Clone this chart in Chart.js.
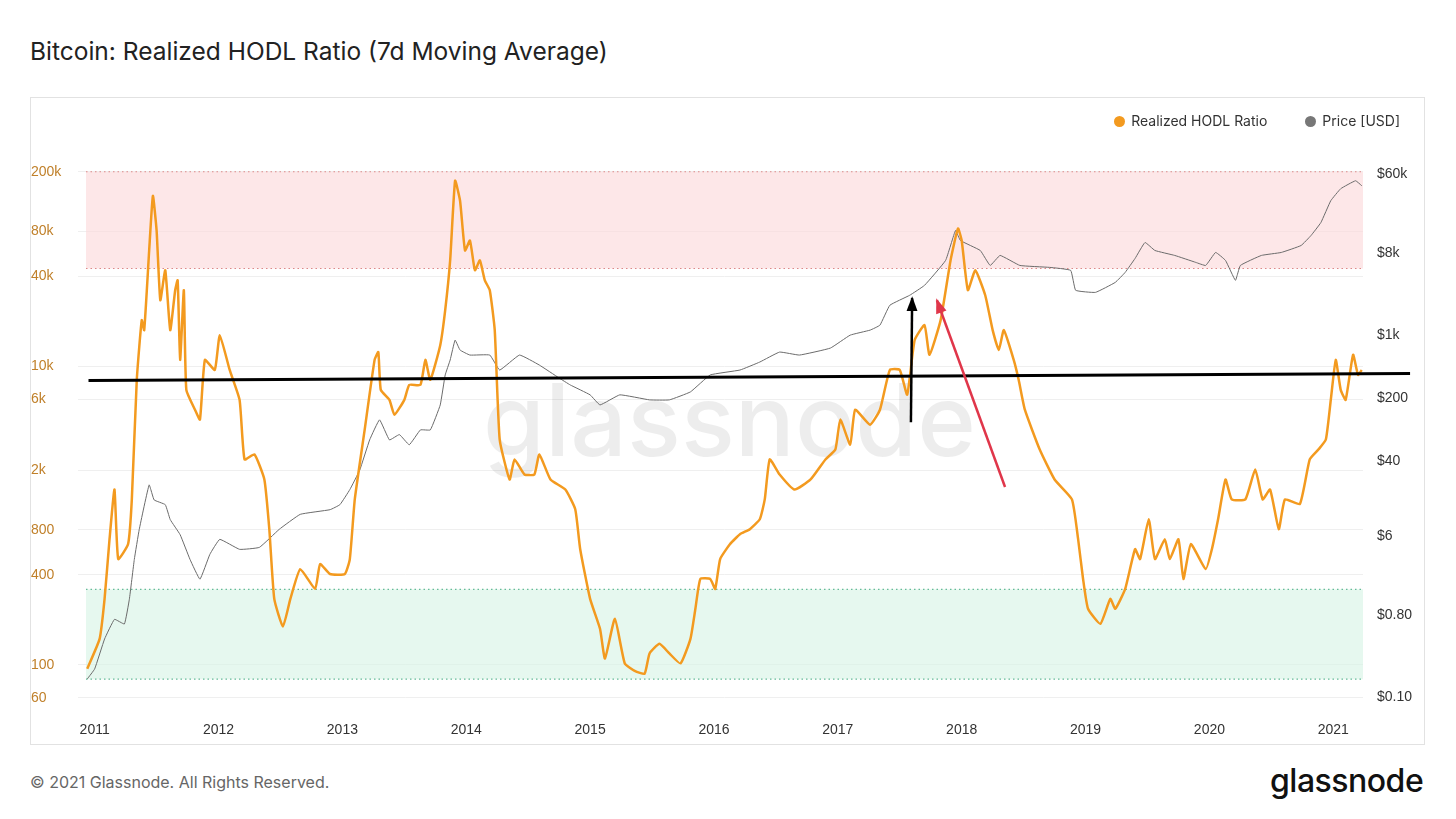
<!DOCTYPE html>
<html><head><meta charset="utf-8">
<script src="https://cdn.jsdelivr.net/npm/chart.js@4"></script>
<style>
body{margin:0;width:1456px;height:819px;background:#fff;font-family:Inter,"Noto Sans",sans-serif;position:relative;overflow:hidden}
#title{position:absolute;left:30px;top:36px;font-size:24.5px;color:#222}
#box{position:absolute;left:30px;top:97px;width:1395px;height:648px;border:1px solid #e2e2e2;box-sizing:border-box}
#legend{position:absolute;right:24px;top:14px;font-size:14px;color:#333;display:flex;gap:38px}
#legend span i{display:inline-block;width:11px;height:11px;border-radius:50%;margin-right:6px;vertical-align:-1px}
#foot{position:absolute;left:30px;top:772px;font-size:16px;color:#666}
#logo{position:absolute;left:1270px;top:761px;font-size:32px;color:#111;font-weight:500;letter-spacing:-0.5px}
</style></head><body>
<div id="title">Bitcoin: Realized HODL Ratio (7d Moving Average)</div>
<div id="box"><canvas id="c" width="1393" height="646"></canvas>
<div id="legend"><span><i style="background:#f39a1f"></i>Realized HODL Ratio</span><span><i style="background:#777"></i>Price [USD]</span></div></div>
<div id="foot">© 2021 Glassnode. All Rights Reserved.</div>
<div id="logo">glassnode</div>
<script>
const hodlYears=[2010.94,2011.04,2011.08,2011.12,2011.16,2011.19,2011.27,2011.30,2011.34,2011.38,2011.40,2011.44,2011.47,2011.50,2011.53,2011.57,2011.61,2011.65,2011.67,2011.69,2011.72,2011.74,2011.81,2011.85,2011.89,2011.97,2012.01,2012.09,2012.17,2012.21,2012.29,2012.37,2012.41,2012.45,2012.52,2012.58,2012.66,2012.78,2012.82,2012.90,2013.02,2013.06,2013.10,2013.18,2013.26,2013.29,2013.31,2013.38,2013.42,2013.50,2013.54,2013.63,2013.67,2013.71,2013.79,2013.83,2013.87,2013.91,2013.95,2013.99,2014.03,2014.07,2014.11,2014.15,2014.19,2014.23,2014.27,2014.35,2014.39,2014.47,2014.55,2014.59,2014.68,2014.80,2014.88,2014.92,2015.00,2015.08,2015.12,2015.20,2015.28,2015.36,2015.44,2015.48,2015.56,2015.64,2015.73,2015.81,2015.85,2015.89,2015.97,2016.01,2016.05,2016.13,2016.21,2016.29,2016.37,2016.41,2016.45,2016.53,2016.65,2016.78,2016.90,2016.98,2017.02,2017.10,2017.14,2017.26,2017.34,2017.42,2017.50,2017.56,2017.62,2017.70,2017.74,2017.83,2017.91,2017.97,2018.00,2018.05,2018.11,2018.19,2018.25,2018.30,2018.34,2018.42,2018.46,2018.51,2018.63,2018.75,2018.89,2018.94,2018.98,2019.02,2019.12,2019.20,2019.24,2019.32,2019.40,2019.44,2019.51,2019.56,2019.64,2019.68,2019.75,2019.79,2019.85,2019.97,2020.02,2020.07,2020.13,2020.18,2020.29,2020.37,2020.43,2020.49,2020.56,2020.61,2020.73,2020.81,2020.88,2020.94,2020.98,2021.02,2021.06,2021.10,2021.16,2021.20,2021.23];
const hodlValues=[94,149,276,693,1490,510,643,1280,8090,20300,17400,59400,138000,80900,27600,43800,17400,32200,37500,11000,32200,6930,5100,4380,11000,9420,16100,9420,5940,2370,2560,1740,809,276,180,276,437,322,472,405,405,510,1280,3750,11000,12400,6930,5940,4720,5940,7480,7480,11000,8090,13800,23700,51000,174000,128000,59400,69300,43800,51000,37500,32200,17400,3220,1740,2370,1880,1880,2560,1740,1490,1100,594,276,174,110,203,102,91,87,119,138,119,102,149,237,375,375,322,510,643,748,809,942,1280,2370,1880,1490,1740,2370,2760,4380,2980,5100,4050,5100,9420,9420,6430,14900,18800,11900,20300,51000,83400,69300,32200,43800,29800,17400,12800,17400,11000,8090,5100,2760,1740,1280,693,375,237,188,276,237,322,594,510,942,510,693,510,693,375,643,437,594,942,1740,1280,1280,2030,1280,1490,809,1280,1190,2370,2760,3220,5940,11000,6930,5940,11900,8730,9420];
const priceYears=[2010.94,2011.00,2011.08,2011.16,2011.24,2011.28,2011.32,2011.36,2011.44,2011.48,2011.57,2011.61,2011.69,2011.77,2011.85,2011.93,2012.01,2012.17,2012.33,2012.49,2012.66,2012.90,2012.98,2013.06,2013.14,2013.22,2013.30,2013.38,2013.46,2013.54,2013.63,2013.71,2013.79,2013.83,2013.87,2013.91,2013.95,2014.03,2014.19,2014.27,2014.43,2014.59,2014.75,2014.84,2015.00,2015.08,2015.24,2015.48,2015.64,2015.81,2015.97,2016.21,2016.37,2016.53,2016.69,2016.94,2017.10,2017.26,2017.34,2017.42,2017.58,2017.70,2017.87,2017.95,2017.99,2018.15,2018.23,2018.31,2018.47,2018.71,2018.88,2018.92,2019.08,2019.24,2019.32,2019.40,2019.48,2019.56,2019.72,2019.89,2019.97,2020.05,2020.13,2020.21,2020.25,2020.42,2020.58,2020.74,2020.82,2020.90,2020.98,2021.06,2021.18,2021.23];
const priceValues=[0.158,0.204,0.437,0.72,0.64,1.2,3.3,7.1,22,15,13.3,9.1,6.2,3.3,2.0,3.76,5.5,4.27,4.49,7.1,10.4,11.7,13.3,19.5,32,69,115,69,79,61,89,89,168,360,526,873,678,597,597,408,597,463,333,279,217,168,217,191,191,234,360,408,500,644,597,713,991,1125,1277,2118,2729,3516,6622,14160,10990,8530,5830,7520,5830,5550,5140,3100,2940,3790,4890,6970,10450,8530,7520,6300,5830,8110,6622,3990,5830,7520,8110,9680,12470,17340,30270,41020,50230,44260];
const leftTicks=[60,100,400,800,2000,6000,10000,40000,80000,200000];
const leftLabels=['60','100','400','800','2k','6k','10k','40k','80k','200k'];
const rightTicks=[0.1,0.8,6,40,200,1000,8000,60000];
const rightLabels=['$0.10','$0.80','$6','$40','$200','$1k','$8k','$60k'];
const xTicks=[2011,2012,2013,2014,2015,2016,2017,2018,2019,2020,2021];
const redBand=[45000,200000], greenBand=[80,320];
const trendLine=[[2010.95,8000],[2021.62,8900]];
const blackArrow=[[2017.59,4200],[2017.60,28500]];
const redArrow=[[2018.35,1550],[2017.80,27600]];

const deco={id:'deco',
 beforeDatasetsDraw(ch){const {ctx,chartArea:a,scales:{x,y}}=ch;ctx.save();
  const band=(b,fill,line)=>{const t=y.getPixelForValue(b[1]),bo=y.getPixelForValue(b[0]);
   ctx.fillStyle=fill;ctx.fillRect(a.left,t,a.right-a.left,bo-t);
   ctx.strokeStyle=line;ctx.setLineDash([1.5,3]);ctx.lineWidth=1.2;
   [t,bo].forEach(p=>{ctx.beginPath();ctx.moveTo(a.left,p);ctx.lineTo(a.right,p);ctx.stroke();});ctx.setLineDash([]);};
  band(redBand,'rgba(252,215,217,0.6)','#d88');
  band(greenBand,'rgba(214,243,228,0.6)','#6b9');
  ctx.font='500 100px Inter, sans-serif';ctx.fillStyle='rgba(0,0,0,0.07)';ctx.textAlign='center';ctx.textBaseline='middle';
  ctx.fillText('glassnode',(a.left+a.right)/2+5,(a.top+a.bottom)/2+5);ctx.restore();},
 afterDatasetsDraw(ch){const {ctx,scales:{x,y}}=ch;ctx.save();
  const P=p=>[x.getPixelForValue(p[0]),y.getPixelForValue(p[1])];
  ctx.lineWidth=3;ctx.strokeStyle='#000';let [s,e]=trendLine.map(P);
  ctx.beginPath();ctx.moveTo(...s);ctx.lineTo(...e);ctx.stroke();
  const arrow=(pts,c)=>{const [a,b]=pts.map(P);ctx.strokeStyle=c;ctx.fillStyle=c;ctx.lineWidth=2.5;
   ctx.beginPath();ctx.moveTo(...a);ctx.lineTo(...b);ctx.stroke();
   const ang=Math.atan2(b[1]-a[1],b[0]-a[0]),L=14;ctx.beginPath();ctx.moveTo(b[0]+2*Math.cos(ang),b[1]+2*Math.sin(ang));
   ctx.lineTo(b[0]-L*Math.cos(ang-0.4),b[1]-L*Math.sin(ang-0.4));ctx.lineTo(b[0]-L*Math.cos(ang+0.4),b[1]-L*Math.sin(ang+0.4));ctx.closePath();ctx.fill();};
  arrow(blackArrow,'#000');arrow(redArrow,'#e0364a');ctx.restore();}};

new Chart(document.getElementById('c'),{type:'line',
 data:{datasets:[
  {label:'Realized HODL Ratio',data:hodlYears.map((t,i)=>({x:t,y:hodlValues[i]})),yAxisID:'y',borderColor:'#f39a1f',borderWidth:2.5,pointRadius:0,tension:0.15},
  {label:'Price [USD]',data:priceYears.map((t,i)=>({x:t,y:priceValues[i]})),yAxisID:'y2',borderColor:'#6b6b6b',borderWidth:1,pointRadius:0,tension:0.1}]},
 options:{responsive:false,animation:false,layout:{padding:{top:33,right:0,left:0,bottom:0}},
  plugins:{legend:{display:false},tooltip:{enabled:false}},
  scales:{
   x:{type:'linear',min:2010.93,max:2021.24,grid:{display:false},border:{display:false},
    afterBuildTicks:s=>{s.ticks=xTicks.map(v=>({value:v}));},afterFit:s=>{s.height=33;},
    ticks:{color:'#333',font:{size:14},callback:v=>String(v)}},
   y:{type:'logarithmic',position:'left',min:49,max:375000,border:{display:false},grid:{color:'#efefef'},
    afterBuildTicks:s=>{s.ticks=leftTicks.map(v=>({value:v}));},afterFit:s=>{s.width=55;},
    ticks:{color:'#c0802a',font:{size:14},crossAlign:'far',padding:0,callback:v=>leftLabels[leftTicks.indexOf(v)]}},
   y2:{type:'logarithmic',position:'right',min:0.07,max:178000,border:{display:false},grid:{display:false},
    afterBuildTicks:s=>{s.ticks=rightTicks.map(v=>({value:v}));},afterFit:s=>{s.width=61;},
    ticks:{color:'#333',font:{size:14},padding:6,callback:v=>rightLabels[rightTicks.indexOf(v)]}}}},
 plugins:[deco]});
</script></body></html>
